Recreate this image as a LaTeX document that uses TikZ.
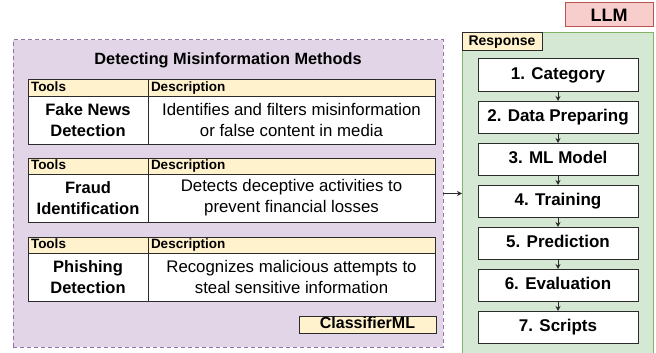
\documentclass[tikz,border=0pt]{standalone}
\usepackage{fontspec}
\setmainfont{Liberation Sans}
\usetikzlibrary{arrows.meta}
\definecolor{purplefill}{HTML}{E1D5E7}
\definecolor{purpleline}{HTML}{9673A6}
\definecolor{greenfill}{HTML}{D5E8D4}
\definecolor{greenline}{HTML}{82B366}
\definecolor{yellowfill}{HTML}{FFF2CC}
\definecolor{redfill}{HTML}{F8CECC}
\definecolor{redline}{HTML}{B85450}
\definecolor{edge}{HTML}{2B2B2B}
\newcommand\fs[2]{\fontsize{#1}{#2}\selectfont}
\newcommand\mktable[4]{%
  \node[hdrcell, minimum width=120pt, text width=114pt] (#1h1) at (28,#2) {Tools};
  \node[hdrcell, minimum width=287pt, text width=281pt] (#1h2) at (148,#2) {Description};
  \node[namecell] (#1c1) at (28,#2+16) {#3};
  \node[desccell] (#1c2) at (148,#2+16) {#4};
}
\begin{document}
\begin{tikzpicture}[x=1pt,y=-1pt,
  every node/.style={inner sep=0pt, outer sep=0pt},
  hdrcell/.style={draw=edge, line width=1pt, fill=yellowfill, anchor=north west,
     minimum height=16pt, text height=10pt, text depth=3pt, align=left, font=\fs{13.5}{15}\bfseries},
  namecell/.style={draw=edge, line width=1pt, fill=white, anchor=north west,
     minimum width=120pt, minimum height=48pt, align=center, font=\fs{16.5}{21}\bfseries},
  desccell/.style={draw=edge, line width=1pt, fill=white, anchor=north west,
     minimum width=287pt, minimum height=48pt, align=center, font=\fs{16.8}{21}},
  stepbox/.style={draw=edge, line width=1pt, fill=white, minimum width=160pt,
     minimum height=32pt, text height=12.5pt, text depth=3.5pt, font=\fs{17}{20}\bfseries},
  arr/.style={-{Stealth[length=5pt,width=5pt]}, line width=0.8pt, draw=edge},
]
\useasboundingbox (0,0) rectangle (656,353);
% left group
\node[draw=purpleline, fill=purplefill, line width=1pt, dash pattern=on 4pt off 3pt,
      minimum width=430pt, minimum height=307pt, anchor=north west] (methods) at (13,40) {};
\node[font=\fs{16.3}{19}\bfseries] (title) at (228,60.5) {Detecting Misinformation Methods};
\mktable{ta}{80}{Fake News\\Detection}{Identifies and filters misinformation\\or false content in media}
\mktable{tb}{158}{Fraud\\Identification}{Detects deceptive activities to\\prevent financial losses}
\mktable{tc}{237}{Phishing\\Detection}{Recognizes malicious attempts to\\steal sensitive information}
\node[draw=edge, fill=yellowfill, line width=1pt, minimum width=137pt, minimum height=17pt,
      text height=11.5pt, text depth=3pt,
      anchor=north west, font=\fs{16}{19}\bfseries] (clf) at (299,316) {ClassifierML};
% right group
\node[draw=redline, fill=redfill, line width=1pt, minimum width=88pt, minimum height=24pt,
      anchor=north west, font=\fs{18}{20}\bfseries] (llm) at (565,3) {LLM};
\node[draw=greenline, fill=greenfill, line width=1pt, minimum width=191pt, minimum height=324pt,
      anchor=north west] (resp) at (462,33) {};
\node[draw=edge, fill=yellowfill, line width=1pt, minimum width=80pt, minimum height=18pt,
      text height=10.5pt, text depth=3pt,
      anchor=north west, font=\fs{14}{16}\bfseries] (resplabel) at (462,33) {Response};
\node[stepbox] (s1) at (558,75) {1. Category};
\node[stepbox] (s2) at (558,117) {2. Data Preparing};
\node[stepbox] (s3) at (558,159) {3. ML Model};
\node[stepbox] (s4) at (558,201) {4. Training};
\node[stepbox] (s5) at (558,243) {5. Prediction};
\node[stepbox] (s6) at (558,285) {6. Evaluation};
\node[stepbox] (s7) at (558,327) {7. Scripts};
\foreach \a/\b in {s1/s2,s2/s3,s3/s4,s4/s5,s5/s6,s6/s7}
  \draw[arr] (\a) -- (\b);
\draw[arr] (methods.east) -- (methods.east -| resp.west);
\end{tikzpicture}
\end{document}
